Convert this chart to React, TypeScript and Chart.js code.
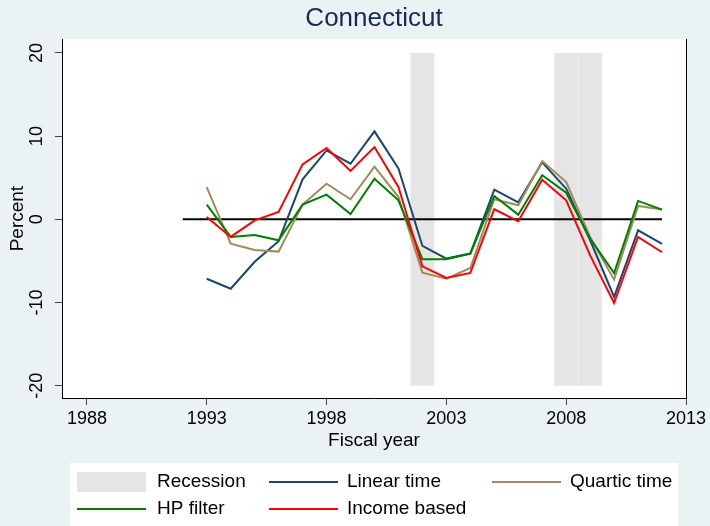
import React, { useEffect, useRef } from 'react';
import { Chart, registerables } from 'chart.js';

Chart.register(...registerables);

const YEARS = [1993, 1994, 1995, 1996, 1997, 1998, 1999, 2000, 2001, 2002, 2003, 2004, 2005, 2006, 2007, 2008, 2009, 2010, 2011, 2012];
const LINEAR_TIME = [-7.15, -8.34, -5.11, -2.63, 4.8, 8.28, 6.68, 10.57, 6.12, -3.2, -4.72, -4.12, 3.56, 2.04, 6.85, 3.68, -2.52, -9.33, -1.32, -2.96];
const QUARTIC_TIME = [3.88, -2.92, -3.68, -3.88, 1.77, 4.28, 2.41, 6.33, 2.68, -6.41, -7.13, -5.85, 2.41, 1.69, 7.01, 4.48, -2.12, -7.25, 1.61, 1.17];
const HP_FILTER = [1.77, -2.12, -1.88, -2.52, 1.77, 2.96, 0.64, 4.88, 2.29, -4.8, -4.8, -4.12, 2.8, 0.56, 5.29, 3.2, -2.32, -6.45, 2.21, 1.17];
const INCOME_BASED = [0.28, -2.12, -0.12, 0.88, 6.61, 8.57, 5.81, 8.69, 3.88, -5.65, -7.05, -6.45, 1.21, -0.24, 4.76, 2.29, -4.33, -10.06, -2.12, -3.96];
const RECESSION_YEARS = [2002, 2008, 2009];
const RECESSION_RANGE = [-20, 20];
const ZERO_LINE_YEARS = [1992, 2012];
const X_TICKS = [1988, 1993, 1998, 2003, 2008, 2013];
const Y_TICKS = [-20, -10, 0, 10, 20];

const FONT = "'Liberation Sans', Arial, Helvetica, sans-serif";
const BG = '#eaf2f3';
const REC_COLOR = '#e5e5e5';

const xy = (xs: number[], ys: number[]) => xs.map((x, i) => ({ x, y: ys[i] }));

const backgroundPlugin = {
  id: 'bgPlugin',
  beforeDraw(chart: any) {
    const { ctx, chartArea } = chart;
    ctx.save();
    ctx.fillStyle = BG;
    ctx.fillRect(0, 0, chart.width, chart.height);
    ctx.fillStyle = '#ffffff';
    ctx.fillRect(chartArea.left, chartArea.top, chartArea.right - chartArea.left, chartArea.bottom - chartArea.top);
    ctx.restore();
  },
};

const legendPlugin = {
  id: 'stataLegend',
  afterDraw(chart: any) {
    const { ctx } = chart;
    const colSwatch = [77, 269, 492];
    const colText = [157, 347, 570];
    const rows = [482, 509];
    const swW = 69;
    ctx.save();
    ctx.fillStyle = '#ffffff';
    ctx.fillRect(70, 463, 608, 63);
    const items = chart.data.datasets.filter((d: any) => d.label);
    items.forEach((d: any, i: number) => {
      const col = i % 3;
      const row = Math.floor(i / 3);
      const y = rows[row];
      const sx = colSwatch[col];
      if (d.type === 'bar') {
        ctx.fillStyle = d.backgroundColor;
        ctx.fillRect(sx, y - 10, swW, 20);
      } else {
        ctx.strokeStyle = d.borderColor;
        ctx.lineWidth = 2;
        ctx.beginPath();
        ctx.moveTo(sx, y);
        ctx.lineTo(sx + swW, y);
        ctx.stroke();
      }
      ctx.fillStyle = '#000';
      ctx.font = `19px ${FONT}`;
      ctx.textBaseline = 'middle';
      ctx.textAlign = 'left';
      ctx.fillText(d.label, colText[col], y);
    });
    ctx.restore();
  },
};

export default function App() {
  const ref = useRef<HTMLCanvasElement>(null);
  useEffect(() => {
    document.body.style.margin = '0';
    const lineDs = (label: string, ys: number[], color: string, order: number) => ({
      type: 'line',
      label,
      data: xy(YEARS, ys),
      borderColor: color,
      backgroundColor: color,
      borderWidth: 2,
      pointRadius: 0,
      tension: 0,
      fill: false,
      order,
    });
    const chart = new Chart(ref.current as HTMLCanvasElement, {
      type: 'line',
      data: {
        datasets: [
          {
            type: 'bar',
            label: 'Recession',
            data: RECESSION_YEARS.map((x) => ({ x, y: RECESSION_RANGE })),
            backgroundColor: REC_COLOR,
            borderColor: '#ebeded',
            borderWidth: 1,
            borderSkipped: false,
            barPercentage: 1,
            categoryPercentage: 1,
            order: 10,
          } as any,
          lineDs('Linear time', LINEAR_TIME, '#1a476f', 4),
          lineDs('Quartic time', QUARTIC_TIME, '#a08c5a', 3),
          lineDs('HP filter', HP_FILTER, '#008000', 2),
          lineDs('Income based', INCOME_BASED, '#ff0000', 1),
          {
            type: 'line',
            label: '',
            data: ZERO_LINE_YEARS.map((x) => ({ x, y: 0 })),
            borderColor: '#000000',
            borderWidth: 2,
            pointRadius: 0,
            order: 5,
          } as any,
        ],
      },
      options: {
        animation: false,
        responsive: false,
        layout: { padding: { left: 0, right: 0, top: 0, bottom: 70 } },
        plugins: {
          legend: { display: false },
          tooltip: { enabled: false },
          title: {
            display: true,
            text: 'Connecticut',
            color: '#1a2a50',
            fullSize: false,
            font: { family: FONT, size: 26, weight: 'normal' },
            padding: { top: 3, bottom: 5 },
          },
        },
        scales: {
          x: {
            type: 'linear',
            min: 1986.96,
            max: 2013,
            offset: false,
            afterBuildTicks: (s: any) => {
              s.ticks = X_TICKS.map((v) => ({ value: v }));
            },
            afterFit: (s: any) => {
              s.height = 58;
            },
            grid: { display: true, drawOnChartArea: false, drawTicks: true, tickLength: 7, color: '#444', offset: false },
            border: { display: true, color: '#000', width: 1 },
            ticks: {
              font: { family: FONT, size: 18 },
              color: '#000',
              padding: 3,
              maxRotation: 0,
              autoSkip: false,
              callback: (v: any) => String(v),
            },
            title: {
              display: true,
              text: 'Fiscal year',
              color: '#000',
              font: { family: FONT, size: 19 },
              padding: { top: 0, bottom: 4 },
            },
          },
          y: {
            type: 'linear',
            position: 'left',
            min: -21.48,
            max: 21.65,
            afterBuildTicks: (s: any) => {
              s.ticks = Y_TICKS.map((v) => ({ value: v }));
            },
            afterFit: (s: any) => {
              s.width = 62;
            },
            grid: { display: true, drawOnChartArea: false, drawTicks: true, tickLength: 7, color: '#444' },
            border: { display: true, color: '#000', width: 1 },
            ticks: {
              font: { family: FONT, size: 18 },
              color: '#000',
              minRotation: 90,
              maxRotation: 90,
              crossAlign: 'center',
              padding: 5,
              callback: (v: any) => String(v),
            },
            title: {
              display: true,
              text: 'Percent',
              color: '#000',
              font: { family: FONT, size: 19 },
              padding: { top: 6, bottom: 0 },
            },
          },
          y2: {
            type: 'linear',
            position: 'right',
            display: true,
            min: -21.48,
            max: 21.65,
            afterFit: (s: any) => {
              s.width = 24;
            },
            grid: { display: true, drawOnChartArea: false, drawTicks: false },
            border: { display: true, color: '#000', width: 1 },
            ticks: { display: false },
          },
        },
      } as any,
      plugins: [backgroundPlugin, legendPlugin],
    });
    return () => chart.destroy();
  }, []);
  return (
    <div style={{ position: 'fixed', left: 0, top: 0, width: 710, height: 526 }}>
      <canvas ref={ref} width={710} height={526} style={{ width: 710, height: 526, display: 'block' }} />
    </div>
  );
}
